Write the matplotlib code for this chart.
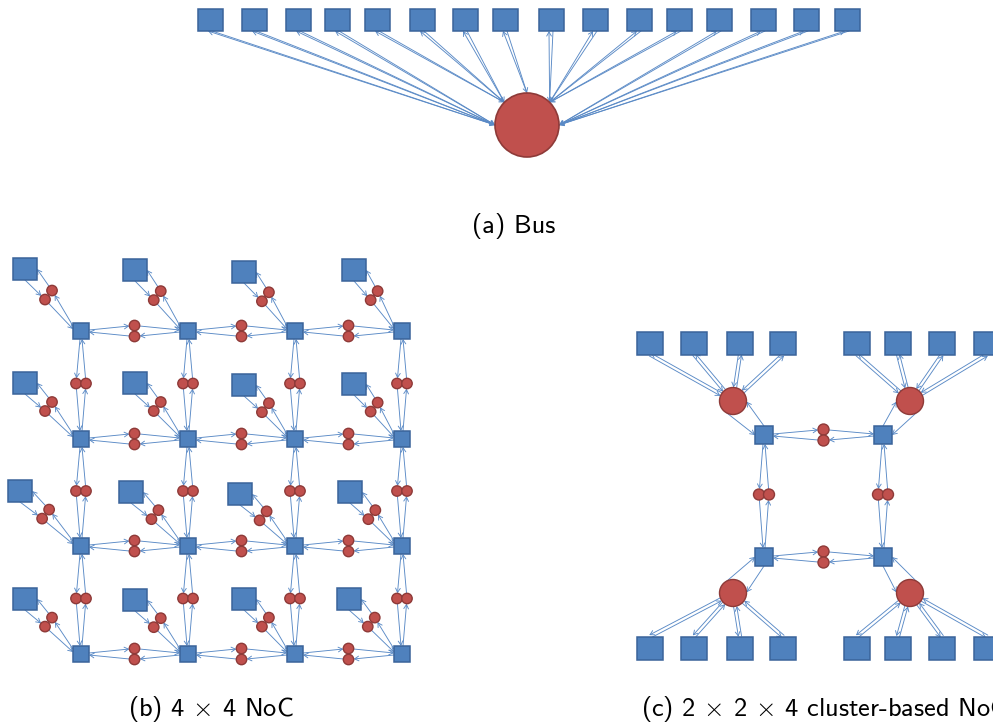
import numpy as np
import matplotlib

matplotlib.use("Agg")
import matplotlib.pyplot as plt
from matplotlib.patches import Rectangle, Circle, FancyArrowPatch

BLUE = "#4F81BD"
BLUE_EDGE = "#3A639A"
RED = "#C0504D"
RED_EDGE = "#8E3A38"
WIRE = "#5A8AC6"
ARROW = "->,head_length=3.0,head_width=1.7"

# (a) shared bus: 16 cores around one arbiter
bus_core_x = [210, 254, 298, 337, 377, 422, 465, 505, 551, 595, 639, 679, 719, 763, 806, 847]
bus_core_y = 20
bus_port = ["W", "W", "W", "W", "NW", "NW", "NW", "N", "NE", "NE", "NE", "NE", "E", "E", "E", "E"]
bus_hub = (527, 125)

# (b) 4 x 4 mesh
mesh_router_x = [81, 188, 295, 402]
mesh_router_y = [331, 439, 546, 654]
mesh_core_x = [[25, 135, 244, 354], [25, 135, 244, 354], [20, 131, 240, 350], [25, 135, 244, 349]]
mesh_core_y = [[269, 270, 272, 270], [383, 383, 385, 384], [491, 492, 494, 492], [599, 600, 599, 599]]

# (c) 2 x 2 clusters of 4 cores
clu_core_x = [650, 694, 740, 783, 857, 898, 942, 987]
clu_core_y = [343, 648]
clu_hub_x = [733, 910]
clu_hub_y = [401, 593]
clu_router_x = [764, 883]
clu_router_y = [435, 557]

PORTS = {"W": (-1, 0), "NW": (-0.707, -0.707), "N": (0, -1), "NE": (0.707, -0.707), "E": (1, 0)}


def wire(ax, p, q, rp=0.0, rq=0.0, off=0.0):
    p = np.asarray(p, float)
    q = np.asarray(q, float)
    u = (q - p) / np.hypot(*(q - p))
    n = np.array([-u[1], u[0]])
    a = p + u * rp + n * off
    b = q - u * rq + n * off
    ax.add_patch(FancyArrowPatch(tuple(a), tuple(b), arrowstyle=ARROW, mutation_scale=1,
                                 color=WIRE, lw=0.65, shrinkA=0, shrinkB=0, zorder=1))


def box(ax, x, y, w, h):
    ax.add_patch(Rectangle((x - w / 2, y - h / 2), w, h, facecolor=BLUE,
                           edgecolor=BLUE_EDGE, lw=1.1, zorder=3))


def dot(ax, x, y, r):
    ax.add_patch(Circle((x, y), r, facecolor=RED, edgecolor=RED_EDGE, lw=1.0, zorder=3))


def buffered_pair(ax, a_out, b_in, b_out, a_in, buf_ab, buf_ba, r=5.2):
    # a -> buffer -> b, and b -> buffer -> a
    wire(ax, a_out, buf_ab, rq=r)
    wire(ax, buf_ab, b_in, rp=r)
    wire(ax, b_out, buf_ba, rq=r)
    wire(ax, buf_ba, a_in, rp=r)
    dot(ax, *buf_ab, r)
    dot(ax, *buf_ba, r)


def router_links(ax, rx, ry, half, rb=5.2, vgap=5.5):
    for i, y in enumerate(ry):
        for j in range(len(rx) - 1):
            x1, x2 = rx[j], rx[j + 1]
            bx = (x1 + x2) / 2
            buffered_pair(ax, (x1 + half, y - 1), (x2 - half, y - 1), (x2 - half, y + 1),
                          (x1 + half, y + 1), (bx, y - vgap), (bx, y + vgap), rb)
    for j, x in enumerate(rx):
        for i in range(len(ry) - 1):
            y1, y2 = ry[i], ry[i + 1]
            by = (y1 + y2) / 2 - 1.5
            buffered_pair(ax, (x - 1, y1 + half), (x - 1, y2 - half), (x + 1, y2 - half),
                          (x + 1, y1 + half), (x - 5, by), (x + 5, by), rb)


fig = plt.figure(figsize=(9.93, 7.24), dpi=100)
ax = fig.add_axes([0, 0, 1, 1])
ax.set_xlim(0, 993)
ax.set_ylim(724, 0)
ax.axis("off")

# (a) bus
hub = np.array(bus_hub, float)
hub_r = 32
for x, port in zip(bus_core_x, bus_port):
    pt = hub + hub_r * np.array(PORTS[port])
    wire(ax, pt, (x - 2, bus_core_y + 11))
    wire(ax, (x + 2, bus_core_y + 11), pt)
    box(ax, x, bus_core_y, 25, 22)
ax.add_patch(Circle(bus_hub, hub_r, facecolor=RED, edgecolor=RED_EDGE, lw=1.2, zorder=3))

# (b) mesh
router_links(ax, mesh_router_x, mesh_router_y, 8)
for i, ry in enumerate(mesh_router_y):
    for j, rx in enumerate(mesh_router_x):
        px, py = mesh_core_x[i][j], mesh_core_y[i][j]
        c = np.array([px, py]) + 0.42 * (np.array([rx, ry]) - np.array([px, py]))
        buffered_pair(ax, (px, py + 11), (rx - 8, ry - 2), (rx - 8, ry - 5), (px + 12, py),
                      tuple(c + (-3.5, 4.5)), tuple(c + (3.5, -4.5)))
        box(ax, px, py, 24, 22)
        box(ax, rx, ry, 16, 16)

# (c) clustered
router_links(ax, clu_router_x, clu_router_y, 9, rb=5.5)
hub_r = 13.5
for ri in range(2):
    v = 1 if ri == 0 else -1
    for ci in range(2):
        s = 1 if ci == 0 else -1
        hx, hy = clu_hub_x[ci], clu_hub_y[ri]
        rx, ry = clu_router_x[ci], clu_router_y[ri]
        hc = np.array([hx, hy], float)
        for px in clu_core_x[4 * ci:4 * ci + 4]:
            py = clu_core_y[ri]
            edge = np.array([px, py + v * 11.5])
            wire(ax, edge, hc, rq=hub_r, off=1.6)
            wire(ax, hc, edge, rp=hub_r, off=1.6)
            box(ax, px, py, 26, 23)
        d1 = np.array([-s * 0.45, v * 0.9])
        d1 /= np.hypot(*d1)
        wire(ax, hc + hub_r * d1, (rx - s * 9, ry))
        wire(ax, (rx, ry - v * 9), hc + hub_r * np.array([s, 0.05 * v]))
        dot(ax, hx, hy, hub_r)
        box(ax, rx, ry, 18, 18)

plt.rcParams["mathtext.fontset"] = "cm"
label = dict(fontsize=19, family="cmss10", va="baseline", color="black")
ax.text(514, 233, "(a) Bus", ha="center", **label)
ax.text(211, 716, r"(b) 4 $\times$ 4 NoC", ha="center", **label)
ax.text(641, 716, r"(c) 2 $\times$ 2 $\times$ 4 cluster-based NoC", ha="left", **label)

fig.savefig("out.png", dpi=100)
